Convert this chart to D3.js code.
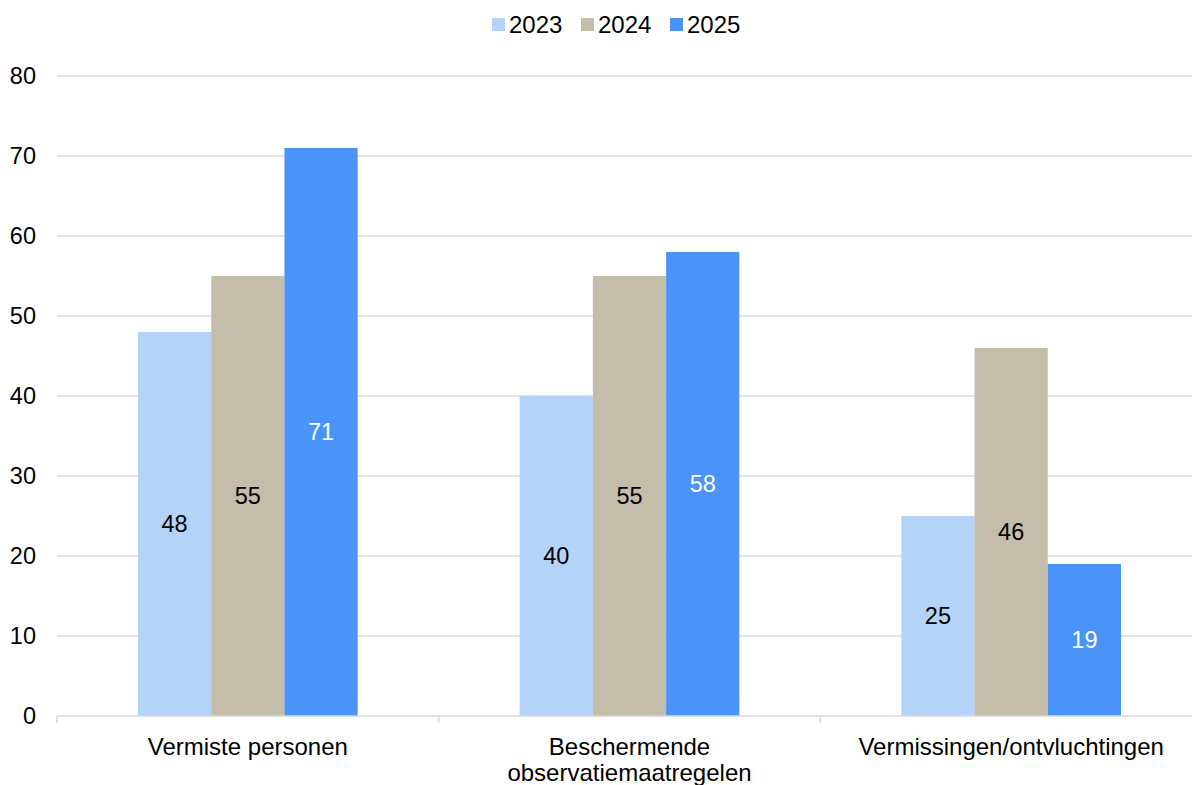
<!DOCTYPE html>
<html><head><meta charset="utf-8">
<script src="https://cdn.jsdelivr.net/npm/d3@7"></script>
<style>body{margin:0;background:#fff;} svg{display:block;font-family:"Liberation Sans",Arial,sans-serif;}</style>
</head><body><svg id="c" width="1192" height="785"></svg>
<script>
const categories = [["Vermiste personen"], ["Beschermende", "observatiemaatregelen"], ["Vermissingen/ontvluchtingen"]];
const seriesNames = ["2023", "2024", "2025"];
const values2023 = [48, 40, 25];
const values2024 = [55, 55, 46];
const values2025 = [71, 58, 19];
const yTicks = [0, 10, 20, 30, 40, 50, 60, 70, 80];
const colors = ["#b3d3f8", "#c4bdaa", "#4a94f9"];
const labelColors = ["#000", "#000", "#fff"];

const series = [values2023, values2024, values2025];
const svg = d3.select("#c");
const mLeft = 57, mRight = 1202, mTop = 76, mBottom = 716;
const fs = 24;
const y = d3.scaleLinear().domain([0, 80]).range([mBottom, mTop]);
const x0 = d3.scaleBand().domain(d3.range(categories.length)).range([mLeft, mRight]).paddingInner(0).paddingOuter(0);
const x1 = d3.scaleBand().domain(d3.range(seriesNames.length)).range([81, x0.bandwidth() - 81]).padding(0);

// gridlines
svg.append("g").selectAll("line").data(yTicks.filter(d => d > 0)).join("line")
  .attr("x1", mLeft).attr("x2", mRight).attr("y1", d => y(d)).attr("y2", d => y(d))
  .attr("stroke", "#d9d9d9").attr("stroke-width", 1.5);

// y labels
svg.append("g").selectAll("text").data(yTicks).join("text")
  .attr("x", 36).attr("y", d => y(d)).attr("dy", "0.35em").attr("text-anchor", "end")
  .attr("font-size", 23.5).attr("fill", "#000").text(d => d);

// bars
categories.forEach((cat, ci) => {
  const g = svg.append("g").attr("transform", `translate(${x0(ci)},0)`);
  series.forEach((vals, si) => {
    const v = vals[ci];
    g.append("rect").attr("x", x1(si)).attr("width", x1.bandwidth())
      .attr("y", y(v)).attr("height", y(0) - y(v)).attr("fill", colors[si]);
    g.append("text").attr("x", x1(si) + x1.bandwidth() / 2).attr("y", (y(v) + y(0)) / 2)
      .attr("dy", "0.35em").attr("text-anchor", "middle").attr("font-size", 23.5)
      .attr("fill", labelColors[si]).text(v);
  });
});

// x axis
svg.append("line").attr("x1", mLeft).attr("x2", mRight).attr("y1", mBottom).attr("y2", mBottom)
  .attr("stroke", "#d9d9d9").attr("stroke-width", 1.5);
const tickXs = d3.range(categories.length + 1).map(i => mLeft + i * x0.bandwidth());
svg.append("g").selectAll("line").data(tickXs).join("line")
  .attr("x1", d => d).attr("x2", d => d).attr("y1", mBottom).attr("y2", mBottom + 7)
  .attr("stroke", "#d9d9d9").attr("stroke-width", 1.5);

// category labels
categories.forEach((lines, ci) => {
  const cx = x0(ci) + x0.bandwidth() / 2;
  const t = svg.append("text").attr("x", cx).attr("y", 755)
    .attr("text-anchor", "middle").attr("font-size", fs).attr("fill", "#000");
  lines.forEach((l, li) => t.append("tspan").attr("x", cx).attr("dy", li ? 26 : 0).text(l));
});

// legend
const legendX = [492, 581, 670];
seriesNames.forEach((n, i) => {
  svg.append("rect").attr("x", legendX[i]).attr("y", 18).attr("width", 13).attr("height", 13).attr("fill", colors[i]);
  svg.append("text").attr("x", legendX[i] + 17).attr("y", 32.5)
    .attr("font-size", fs).attr("fill", "#000").text(n);
});
</script></body></html>
